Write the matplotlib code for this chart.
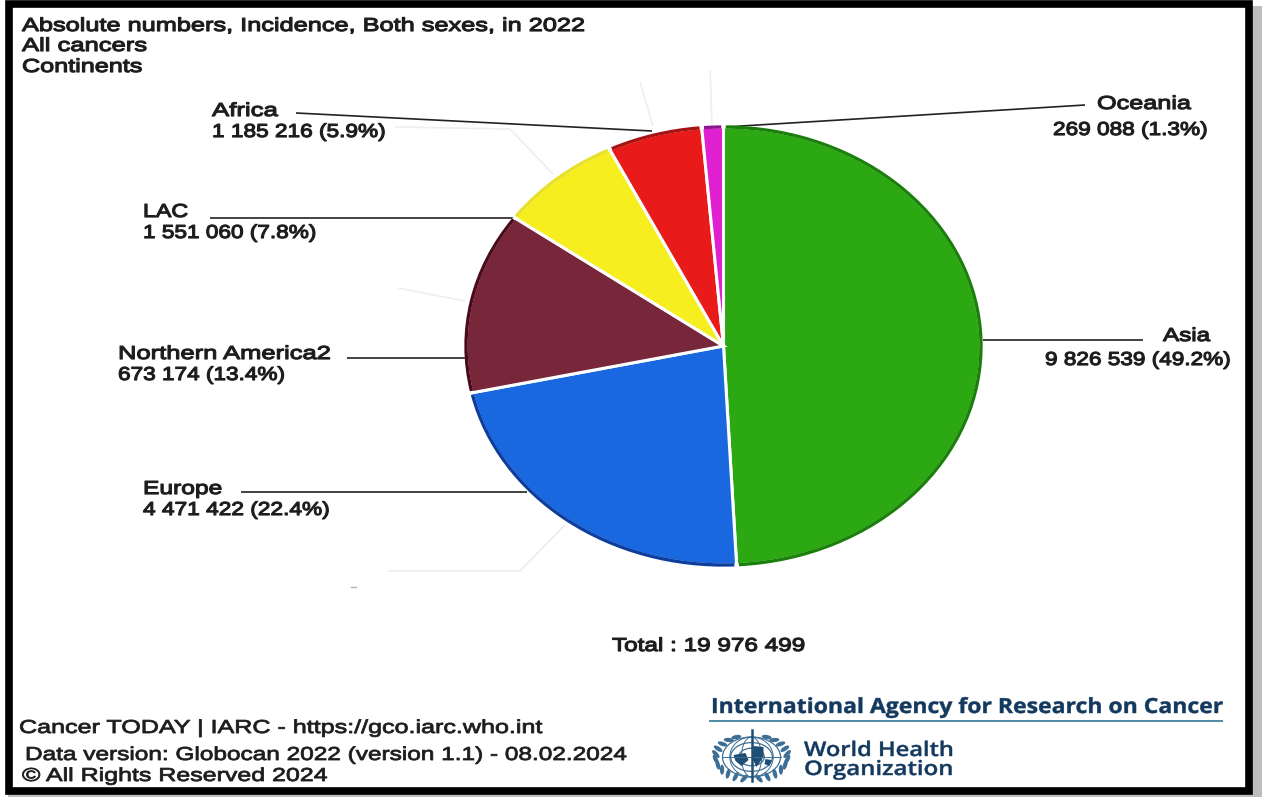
import numpy as np
import matplotlib
matplotlib.use("Agg")
import matplotlib.pyplot as plt
import matplotlib.patheffects as pe
from matplotlib.patches import Arc, Ellipse, Rectangle, Polygon
from matplotlib.transforms import Affine2D

W, H = 1264, 797

# Cancer incidence by continent, both sexes, 2022
continents = ["Asia", "Europe", "Northern America", "LAC", "Africa", "Oceania"]
cases = [9826539, 4471422, 2673174, 1551060, 1185216, 269088]
wedge_colors = ["#2CA812", "#1A68E0", "#78263A", "#F7EE1F", "#E81A1A", "#E01FD0"]
rim_colors = ["#1B7F0B", "#0D3E9E", "#4A0C1C", "#E8E02A", "#A81212", "#8C1590"]

header_lines = ["Absolute numbers, Incidence, Both sexes, in 2022", "All cancers", "Continents"]
total_label = "Total : 19 976 499"
footer_lines = ["Cancer TODAY | IARC - https://gco.iarc.who.int",
                "Data version: Globocan 2022 (version 1.1) - 08.02.2024",
                "\u00a9 All Rights Reserved 2024"]

fig = plt.figure(figsize=(W / 100, H / 100), dpi=100, facecolor="white")
renderer = fig.canvas.get_renderer()

# Page layer in pixel coordinates, y pointing down
page = fig.add_axes([0, 0, 1, 1], zorder=1)
page.set_xlim(0, W)
page.set_ylim(H, 0)
page.axis("off")

# Grey drop shadow and black frame
page.add_patch(Rectangle((1252, 6), 10, 791, fc="#BDBDBD", ec="none"))
page.add_patch(Rectangle((8, 794), 1254, 3, fc="#BDBDBD", ec="none"))
page.add_patch(Rectangle((8.5, 4), 1240, 787, fc="white", ec="black", lw=5.5))

# Faint leftover connectors
for xs, ys in [([640, 653], [82, 126]), ([710, 712], [70, 125]),
               ([553, 510, 395], [174, 129, 127]), ([398, 465], [288, 301]),
               ([565, 520, 388], [525, 571, 571])]:
    page.plot(xs, ys, color="#EEEEEE", lw=1.2, solid_capstyle="butt")
page.plot([351, 356], [587, 587], color="#B5B5B5", lw=1)

# Leader lines from slices to their labels
leaders = [([296, 652], [113, 131]), ([725, 1085], [127, 105]),
           ([210, 516], [218, 218]), ([347, 465], [358, 358]),
           ([241, 527], [492, 492]), ([983, 1143], [340, 340])]
for xs, ys in leaders:
    page.plot(xs, ys, color="#222222", lw=1.2, solid_capstyle="butt")

# Pie, stretched horizontally by giving it a non-square axes
cx, cy, rx, ry = 723.5, 346, 257.5, 219
pie_ax = fig.add_axes([(cx - rx) / W, 1 - (cy + ry) / H, 2 * rx / W, 2 * ry / H], zorder=2)
wedges, _ = pie_ax.pie(cases, colors=wedge_colors, startangle=90, counterclock=False,
                       radius=1, wedgeprops=dict(edgecolor="white", linewidth=2.2))
pie_ax.set_aspect("auto")
pie_ax.set_xlim(-1, 1)
pie_ax.set_ylim(-1, 1)
pie_ax.axis("off")
for wedge, rim in zip(wedges, rim_colors):
    pie_ax.add_patch(Arc((0, 0), 2, 2, theta1=wedge.theta1 + 0.5, theta2=wedge.theta2 - 0.5,
                         color=rim, lw=2.4, clip_on=False))


class WideGlyphs(pe.AbstractPathEffect):
    """Draw text glyphs widened along x, with a thin outline for extra weight."""

    def __init__(self, stretch, outline):
        super().__init__()
        self.stretch = stretch
        self.outline = outline

    def draw_path(self, renderer, gc, tpath, affine, rgbFace=None):
        gc2 = renderer.new_gc()
        gc2.copy_properties(gc)
        gc2.set_linewidth(self.outline)
        if rgbFace is not None:
            gc2.set_foreground(rgbFace)
        renderer.draw_path(gc2, tpath, Affine2D().scale(self.stretch, 1) + affine, rgbFace)
        gc2.restore()


def put(x, y, s, width, size=13.5, family="Liberation Sans", weight="normal",
        color="#1C1C1C", outline=0.85):
    """Left-aligned text on a baseline, widened to span the given pixel width."""
    t = page.text(x, y, s, fontsize=size, family=family, fontweight=weight,
                  color=color, va="baseline")
    natural = t.get_window_extent(renderer).width
    t.set_path_effects([WideGlyphs(width / natural, outline)])
    return t


for y, line, span in zip([31, 51, 72], header_lines, [562, 125, 120]):
    put(22, y, line, span)

put(212, 116, "Africa", 66)
put(212, 137, "1 185 216 (5.9%)", 174)
put(1097, 109, "Oceania", 94)
put(1053, 135, "269 088 (1.3%)", 155)
put(143, 217, "LAC", 45)
put(143, 238, "1 551 060 (7.8%)", 174)
put(1163, 341, "Asia", 47)
put(1045, 365, "9 826 539 (49.2%)", 186)
put(118, 359, "Northern America2", 213)
put(118, 380, "673 174 (13.4%)", 167)
put(143, 494, "Europe", 79)
put(143, 515, "4 471 422 (22.4%)", 187)
put(612, 651, total_label, 193)

for x, y, line, span in zip([19, 25, 22], [733, 760, 781], footer_lines, [523, 603, 305]):
    put(x, y, line, span, outline=0.6)

# IARC / WHO block
navy = "#14395E"
put(711, 713, "International Agency for Research on Cancer", 513, size=15,
    family="Open Sans", weight="bold", color=navy, outline=0.3)
page.plot([710, 1222], [721, 721], color="#4F8AA6", lw=1.4)
put(804, 756, "World Health", 150, size=14.5, family="Open Sans", weight="semibold",
    color=navy, outline=0.3)
put(804, 775, "Organization", 150, size=14.5, family="Open Sans", weight="semibold",
    color=navy, outline=0.3)

# Simplified WHO emblem: globe rings, meridians, staff and laurel leaves
ex, ey = 751.5, 757
blue = "#3D6F96"
for k in [1.0, 0.72, 0.44]:
    page.add_patch(Ellipse((ex, ey), 58 * k, 40 * k, fc="none", ec=blue, lw=0.9))
for k in [0.35, 0.75]:
    page.add_patch(Ellipse((ex, ey), 58 * k, 40, fc="none", ec=blue, lw=0.7))
page.plot([ex - 29, ex + 29], [ey, ey], color=blue, lw=0.7)
page.plot([ex, ex], [730, 781], color="#1F4E75", lw=1.8)
for blob in [[(-18, -2), (-6, -4), (-3, 3), (-10, 9), (-16, 4)],
             [(2, -11), (12, -10), (12, 0), (5, 10), (1, 2)],
             [(14, 2), (20, 3), (18, 9), (13, 7)]]:
    page.add_patch(Polygon([(ex + a, ey + b) for a, b in blob], fc="#1F4E75", ec="none"))
for side in (-1, 1):
    for ang in np.linspace(-65, 78, 11):
        t = np.radians(ang)
        lx = ex + side * 36 * np.cos(t)
        ly = ey + 22 * np.sin(t)
        page.add_patch(Ellipse((lx, ly), 10, 4.2, angle=-side * (ang + 55),
                               fc=blue, ec="none"))

fig.savefig("out.png", dpi=100)
